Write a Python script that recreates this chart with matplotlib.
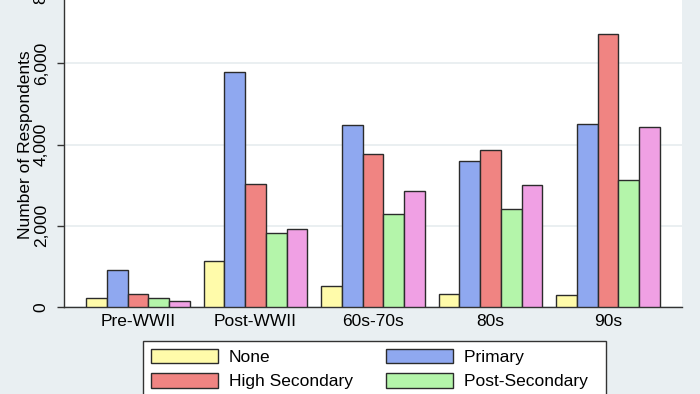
import numpy as np
from matplotlib import pyplot as plt
from matplotlib.ticker import FuncFormatter

plt.rcParams['font.family'] = ['Liberation Sans', 'DejaVu Sans']

periods = ['Pre-WWII', 'Post-WWII', '60s-70s', '80s', '90s']
none_vals = [230, 1125, 517, 312, 303]
primary_vals = [911, 5780, 4483, 3588, 4515]
high_sec_vals = [328, 3037, 3776, 3875, 6732]
post_sec_vals = [214, 1814, 2299, 2406, 3128]
tertiary_vals = [148, 1913, 2849, 3005, 4441]

labels = ['None', 'Primary', 'High Secondary', 'Post-Secondary', 'Tertiary']
colors = ['#FFFBAA', '#8FA8F0', '#F08482', '#B4F5AA', '#F0A0E4']
series = [none_vals, primary_vals, high_sec_vals, post_sec_vals, tertiary_vals]

bg = '#E9EFF2'
fig = plt.figure(figsize=(7, 3.94), dpi=100, facecolor=bg)
ax = fig.add_axes([64 / 700, 87 / 394, 618 / 700, 325 / 394])
ax.set_facecolor('white')

x = np.arange(len(periods))
w = 0.177
handles = []
for i, (vals, lab, col) in enumerate(zip(series, labels, colors)):
    b = ax.bar(x + (i - 2) * w, vals, width=w, color=col, edgecolor='#2b2b2b',
               linewidth=1.0, label=lab, zorder=3)
    handles.append(b)

ax.set_xlim(-0.63, 4.63)
ax.set_ylim(0, 8000)
ax.set_yticks([0, 2000, 4000, 6000, 8000])
ax.yaxis.set_major_formatter(FuncFormatter(lambda v, p: '{:,.0f}'.format(v)))
ax.grid(axis='y', color='#E6ECEF', linewidth=1.2, zorder=0)
ax.set_axisbelow(True)

ax.set_xticks(x)
ax.set_xticklabels(periods, fontsize=12.5)
ax.tick_params(axis='x', length=0, pad=5)
ax.tick_params(axis='y', length=5, width=1, color='#333333', pad=6,
               labelsize=12.5, labelrotation=90)
for t in ax.get_yticklabels():
    t.set_va('center')

ax.set_ylabel('Number of Respondents', fontsize=12.5, labelpad=0.5)

for s in ['top', 'right']:
    ax.spines[s].set_visible(False)
for s in ['left', 'bottom']:
    ax.spines[s].set_color('#333333')
    ax.spines[s].set_linewidth(1)

# column-first fill order so rows read None/Primary, High Secondary/Post-Secondary
order = [0, 2, 4, 1, 3]
leg_labels = [labels[i] + ('  ' if i in (1, 3) else '') for i in order]
leg = fig.legend([handles[i] for i in order], leg_labels,
                 loc='upper left', bbox_to_anchor=(143 / 700, 1 - 341 / 394),
                 ncol=2, fontsize=12.5, frameon=True, fancybox=False,
                 edgecolor='#333333', framealpha=1, handlelength=3.85,
                 handleheight=0.92, handletextpad=0.63, labelspacing=0.45,
                 columnspacing=1.95, borderpad=0.45, borderaxespad=0)
leg.get_frame().set_linewidth(1)

fig.savefig('out.png', dpi=100, facecolor=bg)
